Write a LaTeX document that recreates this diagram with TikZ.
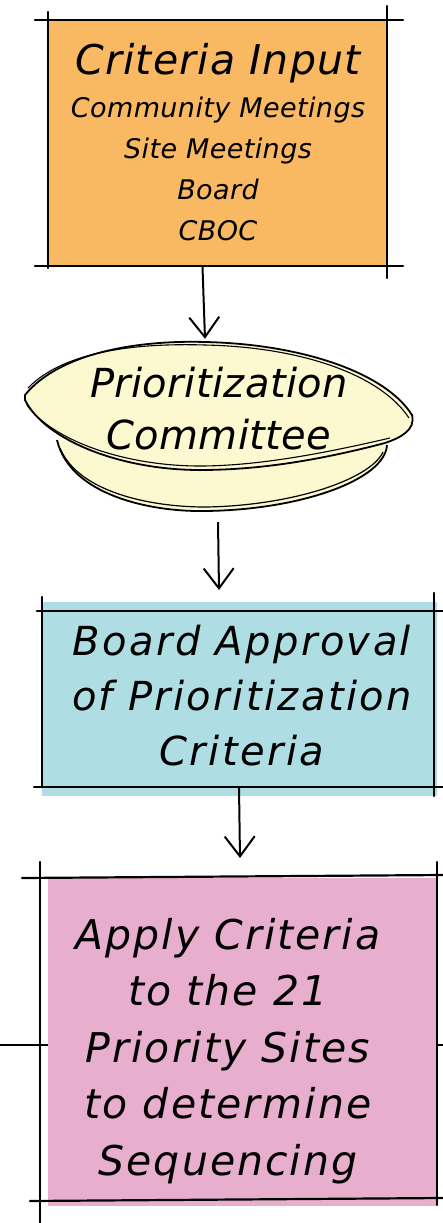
\documentclass[tikz,border=0pt]{standalone}
\usepackage{fontspec}
\setmainfont{DejaVu Sans}
\usetikzlibrary{arrows.meta,calc}
\definecolor{boxorange}{HTML}{F9B862}
\definecolor{boxblue}{HTML}{AEDEE3}
\definecolor{boxpink}{HTML}{E8AECE}
\definecolor{cream}{HTML}{FCF8CF}
\begin{document}
\begin{tikzpicture}[x=1pt,y=-1pt,
  edge/.style={line width=2.2pt, black, line cap=round},
  outl/.style={line width=1.8pt, black, line join=round},
  arr/.style={line width=2pt, black, -{Straight Barb[length=20pt,width=30pt]}},
  fillbox/.style={inner sep=0pt, outer sep=0pt, anchor=north west},
  txt/.style={align=center, inner sep=0pt}]
\useasboundingbox (0,0) rectangle (443,1223);

% ---- box 1 ----
\node[fillbox, fill=boxorange, minimum width=339pt, minimum height=246pt] (b1) at (48,20) {};
\draw[edge] (35,20) -- (403,20);
\draw[edge] (35,266) -- (403,266);
\draw[edge] (48,12) -- (48,268);
\draw[edge] (387,6) -- (387,278);
\node[txt, font=\itshape\fontsize{27}{41}\selectfont\addfontfeatures{LetterSpace=1.5}] (t1) at (218,142)
  {{\fontsize{41}{45}\selectfont\addfontfeatures{LetterSpace=3} Criteria Input}\\[2pt]
   Community Meetings\\ Site Meetings\\ Board\\ CBOC};

% ---- ellipse ----
\fill[cream] (57,440) .. controls (70,495) and (150,512) .. (205,511) .. controls (300,510) and (385,480) .. (387,445) -- cycle;
\fill[cream] (25,395) .. controls (60,352) and (140,340) .. (205,342) .. controls (300,344) and (385,372) .. (412,415) .. controls (416,430) and (400,438) .. (385,443) .. controls (320,460) and (260,470) .. (200,470) .. controls (120,470) and (45,440) .. (25,400) -- cycle;
\draw[outl] (57,440) .. controls (70,495) and (150,512) .. (205,511) .. controls (300,510) and (385,480) .. (387,445);
\draw[line width=1.2pt] (60,448) .. controls (78,492) and (150,507) .. (205,507) .. controls (290,506) and (370,480) .. (383,452);
\draw[outl] (25,395) .. controls (60,352) and (140,340) .. (205,342) .. controls (300,344) and (385,372) .. (412,415) .. controls (416,430) and (400,438) .. (385,443) .. controls (320,460) and (260,470) .. (200,470) .. controls (120,470) and (45,440) .. (25,400) -- cycle;
\draw[line width=1.1pt] (28,388) .. controls (65,350) and (140,343) .. (205,345) .. controls (300,347) and (380,374) .. (409,418);
\draw[line width=1.1pt] (27,405) .. controls (50,438) and (120,466) .. (200,466) .. controls (260,466) and (330,452) .. (390,438);
\node[txt, minimum height=130pt, font=\itshape\fontsize{40}{52}\selectfont\addfontfeatures{LetterSpace=1}] (pc) at (219,409) {Prioritization\\ Committee};

% ---- box 3 ----
\node[fillbox, fill=boxblue, minimum width=395pt, minimum height=194pt] (b3) at (42,602) {};
\draw[edge] (37,611) -- (443,611);
\draw[edge] (34,787) -- (443,787);
\draw[edge] (42,597) -- (42,787);
\draw[edge] (434,593) -- (434,796);
\node[txt, font=\itshape\fontsize{40}{55}\selectfont\addfontfeatures{LetterSpace=6}] (t3) at (242,696) {Board Approval\\ of Prioritization\\ Criteria};

% ---- box 4 ----
\node[fillbox, fill=boxpink, minimum width=388pt, minimum height=328pt] (b4) at (48,878) {};
\draw[edge] (22,878) -- (443,875);
\draw[edge] (30,1201) -- (443,1198);
\draw[edge] (40,862) -- (40,1223);
\draw[edge] (437,862) -- (437,1205);
\draw[line width=1.8pt] (0,1045) -- (48,1045);
\draw[line width=1.8pt] (437,1045) -- (443,1045);
\node[txt, font=\itshape\fontsize{41}{56.5}\selectfont\addfontfeatures{LetterSpace=5}] (t4) at (228,1051) {Apply Criteria\\ to the 21\\ Priority Sites\\ to determine\\ Sequencing};

% ---- connectors ----
\draw[arr] ([xshift=-15pt,yshift=-1pt]b1.south) -- ([xshift=-14pt,yshift=5pt]pc.north);
\draw[arr] ([xshift=-1pt,yshift=-48pt]pc.south) -- ([xshift=-20.5pt,yshift=12pt]b3.north);
\draw[arr] ([xshift=-0.5pt,yshift=9pt]b3.south) -- ([xshift=-2pt,yshift=20pt]b4.north);
\end{tikzpicture}
\end{document}
